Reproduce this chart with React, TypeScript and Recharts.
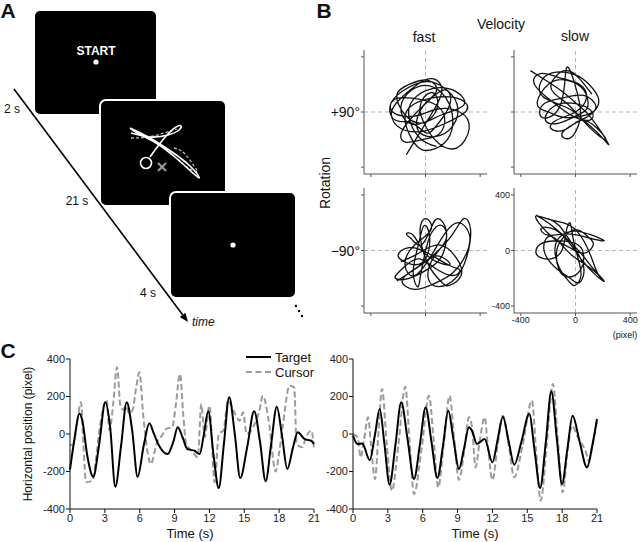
import React from 'react';
import { LineChart, Line, XAxis, YAxis, ReferenceLine, ReferenceArea, ReferenceDot } from 'recharts';

const FONT = '"Liberation Sans", Arial, Helvetica, sans-serif';

// ---- Panel C: horizontal position (pixel) over time (s) ----
const timeTicks = [0, 3, 6, 9, 12, 15, 18, 21];
const posTicks = [-400, -200, 0, 200, 400];

const leftTarget = [
  [0, -190], [0.4, -20], [0.8, 110], [1.05, 75], [1.5, -120], [2.0, -228], [2.5, -60], [3.04, 169],
  [3.45, 40], [3.9, -281], [4.4, -60], [4.88, 169], [5.35, 20], [5.82, -228], [6.35, -60], [6.83, 57],
  [7.2, 5], [7.6, -55], [8.4, -107], [8.9, -40], [9.27, 36], [9.7, -20], [10.1, -80], [10.7, -89],
  [11.16, -107], [11.5, -10], [11.9, 121], [12.35, -110], [12.8, -288], [13.25, -50], [13.7, 196],
  [14.2, -10], [14.65, -235], [15.25, -70], [15.85, 121], [16.35, -40], [16.84, -252], [17.3, -60],
  [17.8, 146], [18.25, -10], [18.7, -187], [19.2, -70], [19.6, 9], [20.2, -27], [20.77, -36], [21, -53],
];
const leftCursor = [
  [0, -60], [0.3, -55], [0.6, 60], [0.95, 169], [1.15, -50], [1.38, -256], [1.95, -249], [2.2, -150],
  [2.6, 50], [3.15, 181], [3.4, 20], [3.7, 150], [4.05, 356], [4.35, 144], [4.6, 130], [4.8, 150],
  [5.1, 110], [5.4, 130], [5.7, 250], [5.97, 329], [6.3, 100], [6.97, -160], [7.3, -90], [7.55, -36],
  [7.9, -10], [8.27, 27], [8.8, 36], [9.1, 150], [9.47, 320], [9.75, 100], [10.0, -53], [10.5, -90],
  [11.0, -124], [11.3, 160], [11.6, -16], [12.0, 151], [12.45, -258], [12.8, 0], [13.2, 18], [13.6, 178],
  [13.9, 150], [14.2, 107], [14.6, 71], [14.9, 116], [15.2, 0], [15.75, 36], [16.3, 124], [16.6, 204],
  [17.1, 71], [17.7, -200], [18.0, -100], [18.3, 36], [18.9, 258], [19.3, 249], [19.5, -53], [20.0, -71],
  [20.3, -18], [20.77, 18], [21, -80],
];
const rightTarget = [
  [0, -9], [0.37, -53], [0.8, -50], [1.44, -139], [1.9, 0], [2.3, 133], [2.7, -50], [3.15, -270],
  [3.65, -60], [4.15, 169], [4.7, -30], [5.25, -240], [5.75, -60], [6.25, 142], [6.75, -40], [7.26, -235],
  [7.75, -60], [8.2, 124], [8.65, -30], [9.12, -187], [9.55, -80], [9.98, 36], [10.24, 18], [10.67, -53],
  [11.33, -27], [12.0, -151], [12.45, -30], [12.9, 92], [13.4, -40], [13.88, -164], [14.5, -40],
  [15.17, 107], [15.65, -100], [16.1, -288], [16.6, -40], [17.07, 228], [17.55, -30], [17.99, -267],
  [18.45, -80], [18.9, 98], [19.5, -40], [20.14, -178], [20.6, -60], [21, 80],
];
const rightCursor = [
  [0, 0], [0.4, -18], [0.66, -124], [0.95, -30], [1.3, 89], [1.55, -60], [1.9, -240], [2.2, 20],
  [2.5, 240], [2.9, -50], [3.35, -302], [3.9, -60], [4.5, 252], [4.85, -20], [5.25, -320], [5.9, -80],
  [6.54, 204], [6.95, -40], [7.34, -284], [7.8, -60], [8.32, 204], [8.7, -20], [9.12, -245], [9.55, -100],
  [9.98, 89], [10.24, 40], [10.55, -178], [10.9, -40], [11.33, 89], [11.6, -60], [12.0, -245],
  [12.45, -60], [12.9, 98], [13.4, -60], [13.88, -231], [14.6, -60], [15.4, 178], [15.75, -80],
  [16.15, -356], [16.7, -40], [17.2, 267], [17.65, -50], [18.05, -311], [18.45, -100], [18.85, 44],
  [19.3, -10], [19.7, -53], [20.0, -89], [20.3, -142], [20.65, -50], [21, 71],
];

// ---- Panel B: cursor trajectories (pixel) ----
const bTicks = [-400, 0, 400];
const fastPlus = [
  [-140, -310], [-60, -180], [40, -20], [120, 150], [60, 240], [-60, 200], [-200, 80], [-250, -20],
  [-180, -120], [-20, -140], [150, -80], [300, 10], [260, 90], [100, 110], [-80, 60], [-150, -60],
  [-60, -250], [60, -270], [160, -200], [200, -60], [150, 100], [30, 190], [-100, 160], [-180, 40],
  [-120, -80], [20, -60], [90, 60], [40, 140], [-40, 40], [10, -120], [100, -230], [230, -260],
  [320, -120], [250, 0], [80, 20], [-80, -30], [-240, 0], [-230, 90], [-100, 100], [60, 60],
  [140, -40], [100, -160], [-20, -200], [-140, -220], [-180, -160], [-100, -40], [20, 80], [140, 160],
  [180, 60], [80, -100], [0, -150], [-100, -80], [-220, -60], [-260, 40], [-170, 150], [0, 220],
  [130, 180], [230, 60], [200, -100], [60, -180], [-60, -120], [-20, 40], [80, 150], [20, 230],
  [-120, 200], [-210, 120], [-150, -20], [-30, -80], [120, -20], [280, 50], [220, 150], [50, 170],
  [-90, 90], [-120, -40], [-40, -190], [80, -250],
];
const slowPlus = [
  [-330, 300], [-250, 250], [-100, 150], [20, 50], [120, -50], [240, -230], [180, -170], [60, -60],
  [-40, 20], [-180, 80], [-260, 140], [-240, 240], [-140, 290], [0, 270], [100, 200], [170, 90],
  [120, -10], [0, -80], [-100, -160], [-40, -190], [20, -100], [30, 60], [-50, 320], [-80, 200],
  [-120, 30], [-200, -40], [-260, -20], [-230, 60], [-100, 100], [60, 120], [150, 40], [80, -20],
  [-80, -40], [-200, 0], [-280, 60], [-200, 200], [-60, 230], [60, 160], [90, 40], [20, -20],
  [-120, -80], [-220, -60], [-160, 40], [0, 60], [120, 0], [100, -60], [-20, -30], [-150, 60],
  [-300, 200], [-250, 280], [-120, 250], [30, 200], [80, 100], [0, 0], [-140, -60], [-180, -120],
  [-80, -130], [40, -60], [160, -120], [220, -200], [100, -110], [-60, 60], [-180, 180], [-80, 300],
  [40, 230], [120, 130],
];
const fastMinus = [
  [-210, -220], [-100, -150], [50, -40], [200, 120], [280, 230], [330, 150], [300, -50], [220, -200],
  [100, -260], [20, -200], [60, -50], [150, 80], [120, 180], [40, 120], [-10, -50], [-40, -200],
  [-60, -260], [-90, -150], [-50, 50], [-10, 180], [30, 100], [0, -60], [-100, -100], [-200, -40],
  [-120, 20], [20, -20], [180, -110], [250, -140], [200, -180], [60, -120], [-60, -60], [-180, -140],
  [-220, -200], [-120, -200], [40, -120], [130, -20], [150, 150], [90, 230], [40, 160], [-30, 40],
  [-100, 80], [-140, 120], [-90, 110], [-20, 0], [80, -80], [180, -100], [100, -40], [0, -80],
  [-120, -160], [-170, -230], [-80, -280], [60, -240], [200, -160], [300, -20], [320, 120], [240, 200],
  [140, 120], [40, -40], [-80, -180], [-150, -100], [-80, 40], [40, 150], [0, 230], [-40, 120],
  [20, -100], [120, -230], [180, -250], [260, -180], [230, -60], [100, 40], [-50, -20], [-180, -80],
];
const slowMinus = [
  [-290, 255], [-200, 200], [-80, 100], [40, -20], [130, -130], [210, -220], [140, -170], [40, -60],
  [-50, 60], [-150, 150], [-250, 160], [-200, 110], [-60, 120], [100, 90], [210, 70], [120, 110],
  [0, 140], [-100, 110], [-150, 20], [-120, -120], [-50, -220], [0, -250], [40, -180], [20, -60],
  [-20, 100], [-40, 200], [-70, 130], [-100, 0], [-180, -60], [-260, -50], [-290, -10], [-250, 50],
  [-120, 70], [20, 40], [60, -60], [20, -160], [-60, -190], [-120, -140], [-140, -20], [-100, 80],
  [0, 150], [90, 100], [130, 40], [60, -20], [-40, 20], [-150, 80], [-270, 200], [-280, 250],
  [-180, 220], [-40, 180], [60, 70], [120, -60], [170, -180], [200, -210], [100, -120], [-20, -40],
  [-120, 60], [-200, 100], [-230, 0], [-150, -120], [-40, -200], [30, -230], [60, -120], [-20, 40],
  [-120, 180], [-200, 230],
];

// ---- Panel A: schematic, in panel pixel units ----
const screens = [
  [34, 157, 10, 115],
  [100, 226, 100, 206],
  [170, 296, 192, 298],
];
const fixDots = [[96, 62], [233, 245]];
const moreDots = [[296, 306], [299, 311], [302, 316]];
const timeArrow = [[14, 89], [188, 322]];
const trailLong = [[130, 128], [150, 138], [172, 152], [190, 166], [199, 177], [194, 174], [176, 158], [156, 143], [137, 133], [130, 128]];
const trailHook = [[150, 157], [158, 146], [167, 135], [176, 127], [181, 126], [179, 130], [168, 135], [150, 137], [131, 133]];
const cursorTrailA = [[131, 138], [148, 137], [164, 133], [177, 129]];
const cursorTrailB = [[174, 148], [184, 153], [194, 166], [197, 172], [187, 167], [177, 158]];

const toXY = (a: number[][]) => a.map(([x, y]) => ({ x, y }));

function Txt({ x, y, size = 12, anchor = 'middle', rotate = false, color = '#111', weight = 400, italic = false, children }: any) {
  const tx = anchor === 'start' ? '0' : anchor === 'end' ? '-100%' : '-50%';
  return (
    <div
      style={{
        position: 'absolute', left: x, top: y, fontSize: size, lineHeight: 1, whiteSpace: 'nowrap',
        transform: `translate(${tx}, -50%)${rotate ? ' rotate(-90deg)' : ''}`,
        transformOrigin: rotate ? '50% 50%' : undefined,
        color, fontWeight: weight, fontStyle: italic ? 'italic' : 'normal',
      }}
    >
      {children}
    </div>
  );
}

function PanelA() {
  const [[ax1, ay1], [ax2, ay2]] = timeArrow;
  return (
    <div style={{ position: 'absolute', left: 0, top: 0 }}>
      <LineChart width={320} height={330} margin={{ top: 0, right: 0, bottom: 0, left: 0 }}>
        <XAxis type="number" dataKey="x" domain={[0, 320]} hide allowDataOverflow />
        <YAxis type="number" dataKey="y" domain={[0, 330]} reversed hide allowDataOverflow />
        {screens.map(([x1, x2, y1, y2], i) => (
          <ReferenceArea
            key={i} x1={x1} x2={x2} y1={y1} y2={y2} ifOverflow="visible"
            shape={(p: any) => (
              <rect x={p.x} y={p.y} width={p.width} height={p.height} rx={6} fill="#000" stroke="#fff" strokeWidth={2} />
            )}
          />
        ))}
        {fixDots.map(([x, y], i) => (
          <ReferenceDot key={i} x={x} y={y} r={2.6} fill="#fff" stroke="none" />
        ))}
        {moreDots.map(([x, y], i) => (
          <ReferenceDot key={'m' + i} x={x} y={y} r={1.2} fill="#000" stroke="none" />
        ))}
        <Line data={toXY(cursorTrailA)} dataKey="y" type="natural" stroke="#bbb" strokeWidth={1.3} strokeDasharray="3 2" dot={false} isAnimationActive={false} />
        <Line data={toXY(cursorTrailB)} dataKey="y" type="natural" stroke="#bbb" strokeWidth={1.3} strokeDasharray="3 2" dot={false} isAnimationActive={false} />
        <Line data={toXY(trailLong)} dataKey="y" type="natural" stroke="#fff" strokeWidth={1.6} dot={false} isAnimationActive={false} />
        <Line data={toXY(trailHook)} dataKey="y" type="natural" stroke="#fff" strokeWidth={1.6} dot={false} isAnimationActive={false} />
        <ReferenceDot x={146} y={163} r={5.5} fill="#000" stroke="#fff" strokeWidth={1.6} />
        <ReferenceLine segment={[{ x: 158, y: 163 }, { x: 166, y: 171 }]} stroke="#999" strokeWidth={2.2} />
        <ReferenceLine segment={[{ x: 158, y: 171 }, { x: 166, y: 163 }]} stroke="#999" strokeWidth={2.2} />
        <ReferenceLine
          segment={[{ x: ax1, y: ay1 }, { x: ax2, y: ay2 }]}
          ifOverflow="visible"
          shape={(p: any) => {
            const { x1, y1, x2, y2 } = p;
            const ang = Math.atan2(y2 - y1, x2 - x1);
            const L = 9, W = 3.5;
            const bx = x2 - L * Math.cos(ang), by = y2 - L * Math.sin(ang);
            const px = -Math.sin(ang) * W, py = Math.cos(ang) * W;
            return (
              <g>
                <line x1={x1} y1={y1} x2={bx} y2={by} stroke="#000" strokeWidth={1.6} />
                <polygon points={`${x2},${y2} ${bx + px},${by + py} ${bx - px},${by - py}`} fill="#000" />
              </g>
            );
          }}
        />
      </LineChart>
    </div>
  );
}

function TrajPlot({ pts, left, top, plotH, labels }: any) {
  const fmt = labels ? (v: number) => String(v) : () => '';
  return (
    <div style={{ position: 'absolute', left: left - 30, top: top - 4 }}>
      <LineChart width={157} height={plotH + 24} margin={{ top: 4, right: 4, bottom: 0, left: 0 }}>
        <XAxis
          type="number" dataKey="x" domain={[-450, 450]} ticks={bTicks} allowDataOverflow height={20}
          stroke="#555" tickSize={3} tickFormatter={fmt} tick={{ fontSize: 9, fill: '#222' }} tickMargin={1}
        />
        <YAxis
          type="number" dataKey="y" domain={[-450, 450]} ticks={bTicks} allowDataOverflow width={30}
          stroke="#555" tickSize={3} tickFormatter={fmt} tick={{ fontSize: 9, fill: '#222' }} tickMargin={1}
        />
        <ReferenceLine x={0} stroke="#b5b5b5" strokeDasharray="4 3" />
        <ReferenceLine y={0} stroke="#b5b5b5" strokeDasharray="4 3" />
        <Line data={toXY(pts)} dataKey="y" type="natural" stroke="#111" strokeWidth={1.3} dot={false} isAnimationActive={false} />
      </LineChart>
    </div>
  );
}

function TracePlot({ target, cursor, left, marginLeft, marginRight }: any) {
  return (
    <div style={{ position: 'absolute', left, top: 340 }}>
      <LineChart width={330} height={202} margin={{ top: 19, right: marginRight, bottom: 0, left: marginLeft }}>
        <XAxis
          type="number" dataKey="x" domain={[0, 21]} ticks={timeTicks} height={33}
          stroke="#111" tickSize={4} tick={{ fontSize: 11, fill: '#222' }} tickMargin={1}
        />
        <YAxis
          type="number" dataKey="y" domain={[-400, 400]} ticks={posTicks} width={42}
          stroke="#111" tickSize={4} tick={{ fontSize: 11, fill: '#222' }} tickMargin={1}
        />
        <Line data={toXY(cursor)} dataKey="y" type="monotone" stroke="#9a9a9a" strokeWidth={2} strokeDasharray="6 3" dot={false} isAnimationActive={false} />
        <Line data={toXY(target)} dataKey="y" type="monotone" stroke="#000" strokeWidth={2} dot={false} isAnimationActive={false} />
      </LineChart>
    </div>
  );
}

export default function App() {
  return (
    <div style={{ position: 'absolute', left: 0, top: 0, width: 640, height: 542, background: '#fff', fontFamily: FONT, overflow: 'hidden' }}>
      <PanelA />
      <Txt x={8} y={10} size={21} weight={700}>A</Txt>
      <Txt x={96} y={51} size={12} weight={700} color="#fff">START</Txt>
      <Txt x={12} y={109} size={12}>2 s</Txt>
      <Txt x={77} y={201} size={12}>21 s</Txt>
      <Txt x={148} y={293} size={12}>4 s</Txt>
      <Txt x={192} y={322} size={12} anchor="start" italic>time</Txt>

      <Txt x={324} y={10} size={21} weight={700}>B</Txt>
      <Txt x={501} y={24} size={14}>Velocity</Txt>
      <Txt x={424} y={37} size={14}>fast</Txt>
      <Txt x={575} y={36} size={14}>slow</Txt>
      <Txt x={360} y={112} size={14} anchor="end">+90°</Txt>
      <Txt x={360} y={251} size={14} anchor="end">−90°</Txt>
      <Txt x={325} y={183} size={14} rotate>Rotation</Txt>
      <TrajPlot pts={fastPlus} left={364} top={50} plotH={124} />
      <TrajPlot pts={slowPlus} left={514} top={50} plotH={124} />
      <TrajPlot pts={fastMinus} left={364} top={188} plotH={125} />
      <TrajPlot pts={slowMinus} left={514} top={188} plotH={125} labels />
      <Txt x={625} y={335} size={9}>(pixel)</Txt>

      <Txt x={8} y={350} size={21} weight={700}>C</Txt>
      <TracePlot target={leftTarget} cursor={leftCursor} left={0} marginLeft={28} marginRight={16} />
      <TracePlot target={rightTarget} cursor={rightCursor} left={310} marginLeft={1} marginRight={43} />
      <Txt x={28} y={434} size={12} rotate>Horizontal position (pixel)</Txt>
      <Txt x={190} y={533} size={13}>Time (s)</Txt>
      <Txt x={475} y={533} size={13}>Time (s)</Txt>

      <div style={{ position: 'absolute', left: 246, top: 356, width: 25, borderTop: '2.5px solid #000' }} />
      <Txt x={275} y={357} size={13} anchor="start">Target</Txt>
      <div style={{ position: 'absolute', left: 246, top: 371, width: 25, borderTop: '2.5px dashed #9a9a9a' }} />
      <Txt x={275} y={372} size={13} anchor="start">Cursor</Txt>
    </div>
  );
}
